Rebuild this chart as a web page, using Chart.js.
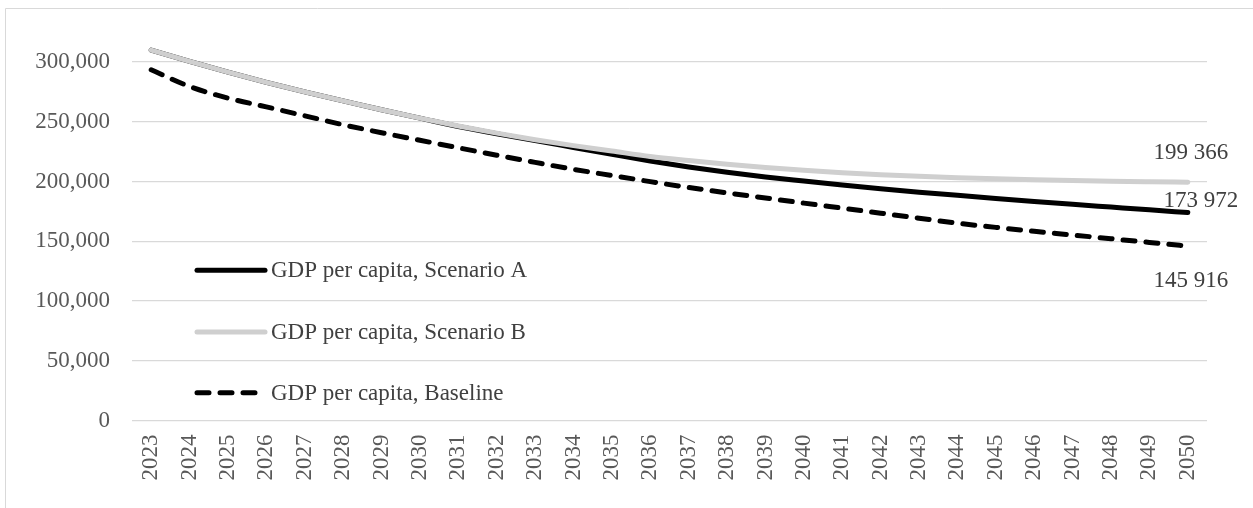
<!DOCTYPE html>
<html>
<head>
<meta charset="utf-8">
<script src="https://cdn.jsdelivr.net/npm/chart.js@4.4.1/dist/chart.umd.min.js"></script>
<style>
  html, body { margin: 0; padding: 0; background: #fff; }
  .wrap { position: relative; width: 1253px; height: 508px; }
</style>
</head>
<body>
<div class="wrap"><canvas id="gdpChart" width="1253" height="508"></canvas></div>
<script>
const YEARS = [
  "2023", "2024", "2025", "2026", "2027", "2028", "2029", "2030", "2031", "2032",
  "2033", "2034", "2035", "2036", "2037", "2038", "2039", "2040", "2041", "2042",
  "2043", "2044", "2045", "2046", "2047", "2048", "2049", "2050"
];

const SCENARIO_A = [
  310000, 300500, 291500, 283000, 275000, 267500, 260000, 253000, 246000, 240000,
  234200, 228500, 222800, 217200, 212200, 207800, 203800, 200400, 197100, 194000,
  191100, 188400, 185800, 183300, 180900, 178600, 176300, 173972
];

const SCENARIO_B = [
  310000, 300500, 291500, 283000, 275000, 267500, 260000, 253000, 246500, 240500,
  235000, 230000, 225500, 221000, 217600, 214500, 211800, 209400, 207300, 205600,
  204300, 203200, 202250, 201450, 200750, 200200, 199750, 199366
];

const BASELINE = [
  293500, 279500, 269800, 262400, 255000, 247500, 240800, 234500, 228200, 222000,
  216000, 210200, 205000, 199900, 195000, 190500, 186200, 181900, 177700, 173500,
  169300, 165100, 161600, 158300, 155200, 152100, 149000, 145916
];

const Y_TICK_STEP = 50000;
const Y_MAX = 300000;

const FONT = "'Liberation Serif', 'Times New Roman', serif";
const TEXT = "#595959";
const GRID = "#d9d9d9";

function formatTick(v) {
  return v.toLocaleString("en-US");
}

function formatSpaced(v) {
  return Math.round(v).toLocaleString("en-US").replace(/,/g, " ");
}

// frame + legend inside the plot + end-of-line value labels
const decorPlugin = {
  id: "decor",
  beforeDraw(chart) {
    const ctx = chart.ctx;
    ctx.save();
    ctx.strokeStyle = GRID;
    ctx.lineWidth = 1;
    ctx.beginPath();
    ctx.moveTo(5.5, 508);
    ctx.lineTo(5.5, 8.5);
    ctx.lineTo(1253, 8.5);
    ctx.stroke();
    ctx.restore();
  },
  afterDatasetsDraw(chart) {
    const ctx = chart.ctx;
    const area = chart.chartArea;
    const yScale = chart.scales.y;
    ctx.save();

    // legend
    const rowY = [
      (yScale.getPixelForValue(150000) + yScale.getPixelForValue(100000)) / 2 - 1,
      (yScale.getPixelForValue(100000) + yScale.getPixelForValue(50000)) / 2 + 1,
      (yScale.getPixelForValue(50000) + yScale.getPixelForValue(0)) / 2 + 2
    ];
    const x0 = area.left + 65;
    const x1 = area.left + 133;
    ctx.font = "23px " + FONT;
    ctx.textBaseline = "middle";
    ctx.textAlign = "left";
    chart.data.datasets.forEach((ds, i) => {
      ctx.strokeStyle = ds.borderColor;
      ctx.lineWidth = ds.borderWidth;
      ctx.lineCap = "round";
      ctx.setLineDash(ds.borderDash || []);
      ctx.beginPath();
      ctx.moveTo(x0, rowY[i]);
      ctx.lineTo(x1, rowY[i]);
      ctx.stroke();
      ctx.setLineDash([]);
      ctx.fillStyle = "#404040";
      ctx.fillText(ds.label, x1 + 6, rowY[i] + 1);
    });

    // last-value labels
    const offsets = [[13, -12], [3, -29], [3, 35]];
    ctx.textAlign = "center";
    chart.data.datasets.forEach((ds, i) => {
      const meta = chart.getDatasetMeta(i);
      const pt = meta.data[meta.data.length - 1];
      const val = ds.data[ds.data.length - 1];
      ctx.fillStyle = "#404040";
      ctx.fillText(formatSpaced(val), pt.x + offsets[i][0], pt.y + offsets[i][1]);
    });
    ctx.restore();
  }
};

new Chart(document.getElementById("gdpChart"), {
  type: "line",
  data: {
    labels: YEARS,
    datasets: [
      {
        label: "GDP per capita, Scenario A",
        data: SCENARIO_A,
        borderColor: "#000000",
        borderWidth: 5,
        borderCapStyle: "round",
        pointRadius: 0,
        cubicInterpolationMode: "monotone",
        clip: false,
        order: 2
      },
      {
        label: "GDP per capita, Scenario B",
        data: SCENARIO_B,
        borderColor: "#cfcfcf",
        borderWidth: 5,
        borderCapStyle: "round",
        pointRadius: 0,
        cubicInterpolationMode: "monotone",
        clip: false,
        order: 1
      },
      {
        label: "GDP per capita, Baseline",
        data: BASELINE,
        borderColor: "#000000",
        borderWidth: 5,
        borderDash: [12, 11],
        borderCapStyle: "round",
        pointRadius: 0,
        cubicInterpolationMode: "monotone",
        clip: false,
        order: 0
      }
    ]
  },
  options: {
    responsive: false,
    animation: false,
    events: [],
    layout: { padding: { left: 0, right: 46, top: 62, bottom: 0 } },
    plugins: {
      legend: { display: false },
      tooltip: { enabled: false }
    },
    scales: {
      x: {
        offset: true,
        grid: { display: false, drawTicks: false },
        border: { display: false },
        ticks: {
          color: TEXT,
          font: { family: FONT, size: 23 },
          maxRotation: 90,
          minRotation: 90,
          autoSkip: false,
          padding: 14
        },
        afterFit: (s) => { s.height = 508 - 62 - 358.5; }
      },
      y: {
        min: 0,
        max: Y_MAX,
        grid: { color: GRID, lineWidth: 1.3, drawTicks: false },
        border: { display: false },
        ticks: {
          stepSize: Y_TICK_STEP,
          color: TEXT,
          font: { family: FONT, size: 23 },
          padding: 22,
          callback: (v) => formatTick(v)
        },
        afterFit: (s) => { s.width = 132; }
      }
    }
  },
  plugins: [decorPlugin]
});
</script>
</body>
</html>
